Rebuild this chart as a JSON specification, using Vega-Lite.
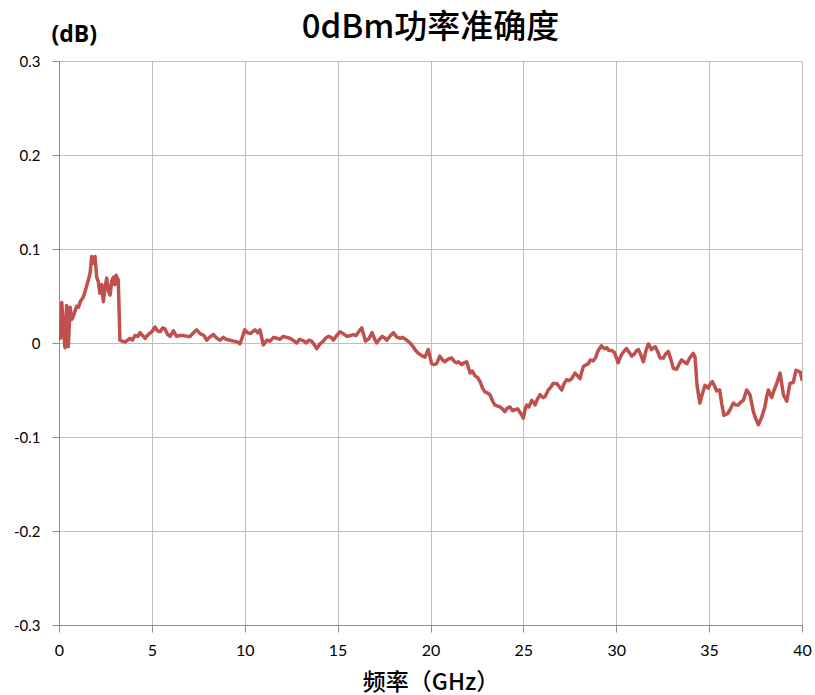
{
  "$schema": "https://vega.github.io/schema/vega-lite/v6.json",
  "autosize": {"type": "none"},
  "padding": {"left": 59, "top": 61, "right": 13, "bottom": 70},
  "width": 743,
  "height": 564,
  "background": "white",
  "title": {
    "text": "0dBm功率准确度",
    "font": "Noto Sans CJK SC",
    "fontSize": 33,
    "fontWeight": 500,
    "color": "#000000",
    "anchor": "middle",
    "baseline": "alphabetic",
    "offset": -48
  },
  "data": {
    "values": [
      {"f": 0, "v": 0.014}, {"f": 0.08, "v": 0.005}, {"f": 0.15, "v": 0.043}, {"f": 0.22, "v": 0.02}, {"f": 0.32, "v": -0.005}, {"f": 0.41, "v": 0.04}, {"f": 0.5, "v": -0.004}, {"f": 0.6, "v": 0.038}, {"f": 0.68, "v": 0.025}, {"f": 0.77, "v": 0.028}, {"f": 0.86, "v": 0.034}, {"f": 0.95, "v": 0.039}, {"f": 1.05, "v": 0.038}, {"f": 1.15, "v": 0.044}, {"f": 1.31, "v": 0.049}, {"f": 1.45, "v": 0.058}, {"f": 1.58, "v": 0.067}, {"f": 1.68, "v": 0.075}, {"f": 1.76, "v": 0.092}, {"f": 1.85, "v": 0.085}, {"f": 1.94, "v": 0.092}, {"f": 2.03, "v": 0.07}, {"f": 2.12, "v": 0.065}, {"f": 2.2, "v": 0.053}, {"f": 2.3, "v": 0.062}, {"f": 2.39, "v": 0.044}, {"f": 2.48, "v": 0.06}, {"f": 2.57, "v": 0.069}, {"f": 2.66, "v": 0.055}, {"f": 2.75, "v": 0.051}, {"f": 2.84, "v": 0.066}, {"f": 2.93, "v": 0.07}, {"f": 3.0, "v": 0.062}, {"f": 3.07, "v": 0.072}, {"f": 3.19, "v": 0.067}, {"f": 3.28, "v": 0.003}, {"f": 3.4, "v": 0.002}, {"f": 3.55, "v": 0.001}, {"f": 3.7, "v": 0.003}, {"f": 3.82, "v": 0.005}, {"f": 3.95, "v": 0.003}, {"f": 4.1, "v": 0.008}, {"f": 4.25, "v": 0.007}, {"f": 4.36, "v": 0.011}, {"f": 4.5, "v": 0.008}, {"f": 4.63, "v": 0.005}, {"f": 4.8, "v": 0.009}, {"f": 5.0, "v": 0.012}, {"f": 5.17, "v": 0.017}, {"f": 5.3, "v": 0.013}, {"f": 5.44, "v": 0.012}, {"f": 5.58, "v": 0.016}, {"f": 5.7, "v": 0.015}, {"f": 5.85, "v": 0.009}, {"f": 5.98, "v": 0.007}, {"f": 6.16, "v": 0.013}, {"f": 6.33, "v": 0.007}, {"f": 6.5, "v": 0.008}, {"f": 6.7, "v": 0.008}, {"f": 6.9, "v": 0.007}, {"f": 7.05, "v": 0.007}, {"f": 7.2, "v": 0.01}, {"f": 7.41, "v": 0.014}, {"f": 7.6, "v": 0.01}, {"f": 7.8, "v": 0.008}, {"f": 7.95, "v": 0.003}, {"f": 8.1, "v": 0.006}, {"f": 8.31, "v": 0.009}, {"f": 8.5, "v": 0.005}, {"f": 8.67, "v": 0.003}, {"f": 8.85, "v": 0.006}, {"f": 9.0, "v": 0.004}, {"f": 9.2, "v": 0.003}, {"f": 9.4, "v": 0.002}, {"f": 9.6, "v": 0.001}, {"f": 9.74, "v": -0.001}, {"f": 9.85, "v": 0.005}, {"f": 10.0, "v": 0.014}, {"f": 10.15, "v": 0.011}, {"f": 10.3, "v": 0.01}, {"f": 10.55, "v": 0.014}, {"f": 10.7, "v": 0.011}, {"f": 10.82, "v": 0.014}, {"f": 11.0, "v": -0.002}, {"f": 11.2, "v": 0.003}, {"f": 11.36, "v": 0.002}, {"f": 11.55, "v": 0.006}, {"f": 11.72, "v": 0.005}, {"f": 11.9, "v": 0.004}, {"f": 12.07, "v": 0.007}, {"f": 12.25, "v": 0.006}, {"f": 12.43, "v": 0.005}, {"f": 12.6, "v": 0.003}, {"f": 12.8, "v": 0}, {"f": 12.95, "v": 0.004}, {"f": 13.07, "v": 0.003}, {"f": 13.2, "v": 0.002}, {"f": 13.3, "v": 0}, {"f": 13.45, "v": 0.003}, {"f": 13.6, "v": 0.002}, {"f": 13.75, "v": -0.002}, {"f": 13.87, "v": -0.006}, {"f": 14.05, "v": -0.001}, {"f": 14.23, "v": 0.002}, {"f": 14.35, "v": 0.005}, {"f": 14.5, "v": 0.007}, {"f": 14.65, "v": 0.006}, {"f": 14.77, "v": 0.003}, {"f": 14.95, "v": 0.008}, {"f": 15.13, "v": 0.012}, {"f": 15.3, "v": 0.01}, {"f": 15.5, "v": 0.007}, {"f": 15.7, "v": 0.008}, {"f": 15.85, "v": 0.009}, {"f": 16.0, "v": 0.008}, {"f": 16.1, "v": 0.011}, {"f": 16.3, "v": 0.016}, {"f": 16.5, "v": 0.002}, {"f": 16.7, "v": 0.005}, {"f": 16.85, "v": 0.011}, {"f": 17.0, "v": 0.004}, {"f": 17.1, "v": 0}, {"f": 17.25, "v": 0.004}, {"f": 17.4, "v": 0.007}, {"f": 17.55, "v": 0.005}, {"f": 17.65, "v": 0.003}, {"f": 17.85, "v": 0.008}, {"f": 18.0, "v": 0.011}, {"f": 18.2, "v": 0.006}, {"f": 18.37, "v": 0.005}, {"f": 18.5, "v": 0.006}, {"f": 18.72, "v": 0.003}, {"f": 18.9, "v": 0}, {"f": 19.07, "v": -0.004}, {"f": 19.2, "v": -0.008}, {"f": 19.35, "v": -0.011}, {"f": 19.5, "v": -0.013}, {"f": 19.7, "v": -0.015}, {"f": 19.88, "v": -0.007}, {"f": 20.06, "v": -0.022}, {"f": 20.2, "v": -0.023}, {"f": 20.33, "v": -0.022}, {"f": 20.5, "v": -0.014}, {"f": 20.65, "v": -0.018}, {"f": 20.77, "v": -0.02}, {"f": 20.96, "v": -0.017}, {"f": 21.14, "v": -0.016}, {"f": 21.3, "v": -0.02}, {"f": 21.4, "v": -0.021}, {"f": 21.5, "v": -0.02}, {"f": 21.68, "v": -0.023}, {"f": 21.82, "v": -0.021}, {"f": 21.95, "v": -0.02}, {"f": 22.13, "v": -0.032}, {"f": 22.25, "v": -0.03}, {"f": 22.4, "v": -0.035}, {"f": 22.55, "v": -0.037}, {"f": 22.67, "v": -0.041}, {"f": 22.8, "v": -0.048}, {"f": 22.93, "v": -0.052}, {"f": 23.05, "v": -0.053}, {"f": 23.2, "v": -0.055}, {"f": 23.35, "v": -0.062}, {"f": 23.47, "v": -0.066}, {"f": 23.6, "v": -0.067}, {"f": 23.74, "v": -0.068}, {"f": 23.87, "v": -0.07}, {"f": 24.0, "v": -0.073}, {"f": 24.15, "v": -0.069}, {"f": 24.28, "v": -0.068}, {"f": 24.42, "v": -0.072}, {"f": 24.55, "v": -0.071}, {"f": 24.7, "v": -0.07}, {"f": 24.82, "v": -0.074}, {"f": 24.92, "v": -0.077}, {"f": 25.0, "v": -0.08}, {"f": 25.1, "v": -0.07}, {"f": 25.18, "v": -0.066}, {"f": 25.3, "v": -0.068}, {"f": 25.45, "v": -0.061}, {"f": 25.55, "v": -0.063}, {"f": 25.63, "v": -0.066}, {"f": 25.75, "v": -0.06}, {"f": 25.9, "v": -0.055}, {"f": 26.05, "v": -0.058}, {"f": 26.17, "v": -0.057}, {"f": 26.34, "v": -0.05}, {"f": 26.48, "v": -0.047}, {"f": 26.6, "v": -0.043}, {"f": 26.8, "v": -0.043}, {"f": 26.95, "v": -0.047}, {"f": 27.06, "v": -0.05}, {"f": 27.2, "v": -0.043}, {"f": 27.33, "v": -0.039}, {"f": 27.45, "v": -0.04}, {"f": 27.6, "v": -0.038}, {"f": 27.78, "v": -0.032}, {"f": 27.92, "v": -0.035}, {"f": 28.05, "v": -0.038}, {"f": 28.14, "v": -0.031}, {"f": 28.23, "v": -0.025}, {"f": 28.4, "v": -0.023}, {"f": 28.5, "v": -0.022}, {"f": 28.6, "v": -0.018}, {"f": 28.77, "v": -0.019}, {"f": 28.9, "v": -0.015}, {"f": 29.0, "v": -0.009}, {"f": 29.2, "v": -0.003}, {"f": 29.3, "v": -0.005}, {"f": 29.4, "v": -0.006}, {"f": 29.5, "v": -0.005}, {"f": 29.6, "v": -0.008}, {"f": 29.75, "v": -0.008}, {"f": 29.9, "v": -0.01}, {"f": 30.1, "v": -0.021}, {"f": 30.2, "v": -0.016}, {"f": 30.3, "v": -0.012}, {"f": 30.45, "v": -0.008}, {"f": 30.56, "v": -0.006}, {"f": 30.7, "v": -0.01}, {"f": 30.83, "v": -0.014}, {"f": 31.0, "v": -0.011}, {"f": 31.1, "v": -0.008}, {"f": 31.2, "v": -0.007}, {"f": 31.35, "v": -0.014}, {"f": 31.46, "v": -0.02}, {"f": 31.6, "v": -0.008}, {"f": 31.73, "v": -0.001}, {"f": 31.82, "v": -0.004}, {"f": 31.9, "v": -0.007}, {"f": 32.0, "v": -0.005}, {"f": 32.1, "v": -0.004}, {"f": 32.25, "v": -0.01}, {"f": 32.36, "v": -0.016}, {"f": 32.54, "v": -0.016}, {"f": 32.65, "v": -0.012}, {"f": 32.8, "v": -0.009}, {"f": 32.95, "v": -0.018}, {"f": 33.07, "v": -0.027}, {"f": 33.25, "v": -0.028}, {"f": 33.4, "v": -0.022}, {"f": 33.52, "v": -0.018}, {"f": 33.65, "v": -0.02}, {"f": 33.8, "v": -0.022}, {"f": 33.95, "v": -0.016}, {"f": 34.15, "v": -0.011}, {"f": 34.24, "v": -0.015}, {"f": 34.35, "v": -0.045}, {"f": 34.5, "v": -0.064}, {"f": 34.62, "v": -0.055}, {"f": 34.78, "v": -0.045}, {"f": 34.95, "v": -0.048}, {"f": 35.05, "v": -0.044}, {"f": 35.17, "v": -0.041}, {"f": 35.3, "v": -0.046}, {"f": 35.4, "v": -0.051}, {"f": 35.57, "v": -0.05}, {"f": 35.68, "v": -0.065}, {"f": 35.8, "v": -0.077}, {"f": 36.0, "v": -0.075}, {"f": 36.15, "v": -0.07}, {"f": 36.3, "v": -0.064}, {"f": 36.45, "v": -0.066}, {"f": 36.57, "v": -0.066}, {"f": 36.7, "v": -0.063}, {"f": 36.84, "v": -0.061}, {"f": 37.02, "v": -0.05}, {"f": 37.2, "v": -0.055}, {"f": 37.38, "v": -0.073}, {"f": 37.5, "v": -0.08}, {"f": 37.65, "v": -0.087}, {"f": 37.83, "v": -0.079}, {"f": 38.0, "v": -0.068}, {"f": 38.1, "v": -0.057}, {"f": 38.19, "v": -0.05}, {"f": 38.37, "v": -0.058}, {"f": 38.5, "v": -0.05}, {"f": 38.64, "v": -0.043}, {"f": 38.82, "v": -0.032}, {"f": 38.92, "v": -0.045}, {"f": 39.0, "v": -0.055}, {"f": 39.18, "v": -0.062}, {"f": 39.35, "v": -0.043}, {"f": 39.53, "v": -0.042}, {"f": 39.68, "v": -0.029}, {"f": 39.8, "v": -0.03}, {"f": 39.9, "v": -0.031}, {"f": 40.0, "v": -0.039}
    ]
  },
  "mark": {"type": "line", "color": "#c0504d", "strokeWidth": 3.5, "strokeJoin": "round", "strokeCap": "round", "clip": true},
  "encoding": {
    "x": {
      "field": "f",
      "type": "quantitative",
      "scale": {"domain": [0, 40], "nice": false, "zero": false},
      "axis": {
        "values": [0, 5, 10, 15, 20, 25, 30, 35, 40],
        "title": "频率（GHz）",
        "titleFont": "Noto Sans CJK SC",
        "titleFontSize": 23,
        "titleFontWeight": 500,
        "titleColor": "#000000",
        "titleBaseline": "alphabetic",
        "titleY": 64,
        "labelFont": "Lato",
        "labelFontSize": 16,
        "labelColor": "#000000",
        "labelPadding": 10,
        "labelFlush": false,
        "tickSize": 7,
        "tickColor": "#8c8c8c",
        "domainColor": "#8c8c8c",
        "gridColor": "#bfbfbf",
        "gridWidth": 1
      }
    },
    "y": {
      "field": "v",
      "type": "quantitative",
      "scale": {"domain": [-0.3, 0.3], "nice": false, "zero": false},
      "axis": {
        "values": [-0.3, -0.2, -0.1, 0, 0.1, 0.2, 0.3],
        "labelExpr": "datum.value == 0 ? '0' : (datum.value < 0 ? '-' + format(-datum.value, '.1f') : format(datum.value, '.1f'))",
        "title": "(dB)",
        "titleAngle": 0,
        "titleFont": "Open Sans",
        "titleFontSize": 23,
        "titleFontWeight": "bold",
        "titleColor": "#000000",
        "titleAlign": "left",
        "titleBaseline": "alphabetic",
        "titleX": -8,
        "titleY": -20,
        "labelFont": "Lato",
        "labelFontSize": 15,
        "labelColor": "#000000",
        "labelPadding": 12,
        "labelFlush": false,
        "tickSize": 7,
        "tickColor": "#8c8c8c",
        "domainColor": "#8c8c8c",
        "gridColor": "#bfbfbf",
        "gridWidth": 1
      }
    }
  },
  "config": {
    "view": {"stroke": "#bfbfbf", "strokeWidth": 1}
  }
}
